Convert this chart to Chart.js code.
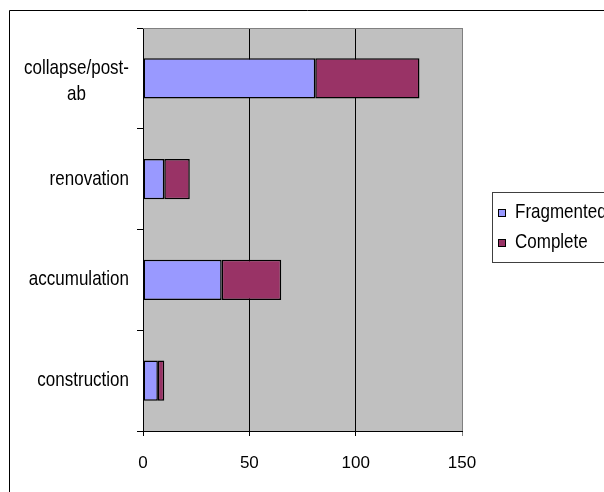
<!DOCTYPE html>
<html>
<head>
<meta charset="utf-8">
<script src="https://cdn.jsdelivr.net/npm/chart.js@4/dist/chart.umd.min.js"></script>
<style>
  html, body { margin: 0; padding: 0; background: #fff; overflow: hidden; }
  #wrap { position: relative; width: 604px; height: 492px; }
</style>
</head>
<body>
<div id="wrap"><canvas id="c" width="604" height="492"></canvas></div>
<script>
// Stages of the sequence, top to bottom
const categories = [['collapse/post-', 'ab'], 'renovation', 'accumulation', 'construction'];
// Counts per stage
const fragmented = [81, 10, 37, 7];
const complete = [49, 12, 28, 3];
// Value axis
const xTicks = [0, 50, 100, 150];
const seriesNames = ['Fragmented', 'Complete'];
const seriesColors = ['#9999FF', '#993366'];

const FONT = "'Liberation Sans', Arial, sans-serif";
Chart.defaults.font.family = FONT;
Chart.defaults.font.size = 16;
Chart.defaults.color = '#000';

// text drawn slightly taller than wide
const STRETCH = 1.15;
function tallText(ctx, s, x, y) {
  ctx.save();
  ctx.translate(x, y);
  ctx.scale(1, STRETCH);
  ctx.fillText(s, 0, 0);
  ctx.restore();
}

// Frame, plot background, plot border, category labels and legend
const frame = {
  id: 'frame',
  beforeDraw(chart) {
    const { ctx, chartArea: a } = chart;
    ctx.save();
    ctx.fillStyle = '#fff';
    ctx.fillRect(0, 0, chart.width, chart.height);
    // outer chart border
    ctx.strokeStyle = '#000';
    ctx.lineWidth = 1;
    ctx.beginPath();
    ctx.moveTo(9.5, chart.height + 2);
    ctx.lineTo(9.5, 10.5);
    ctx.lineTo(chart.width + 2, 10.5);
    ctx.stroke();
    // plot area
    ctx.fillStyle = '#C0C0C0';
    ctx.fillRect(a.left, a.top, a.right - a.left, a.bottom - a.top);
    ctx.restore();
  },
  afterDraw(chart) {
    const { ctx, chartArea: a } = chart;
    const y = chart.scales.y;
    ctx.save();
    // gray plot border on top and right
    ctx.strokeStyle = '#808080';
    ctx.lineWidth = 1;
    ctx.beginPath();
    ctx.moveTo(a.left, Math.round(a.top) + 0.5);
    ctx.lineTo(Math.round(a.right) + 0.5, Math.round(a.top) + 0.5);
    ctx.lineTo(Math.round(a.right) + 0.5, a.bottom);
    ctx.stroke();

    // category labels: block right-aligned, lines centred within block
    ctx.font = '17px ' + FONT;
    ctx.fillStyle = '#000';
    ctx.textBaseline = 'middle';
    ctx.textAlign = 'center';
    const rightEdge = 129;
    const lineGap = 26;
    chart.data.labels.forEach((lab, i) => {
      const lines = Array.isArray(lab) ? lab : [lab];
      const w = Math.max(...lines.map(s => ctx.measureText(s).width));
      const cx = rightEdge - w / 2;
      const cy = y.getPixelForValue(i) + (lines.length > 1 ? 3 : 0);
      const y0 = cy - (lines.length - 1) * lineGap / 2;
      lines.forEach((s, k) => tallText(ctx, s, cx, y0 + k * lineGap));
    });

    // legend
    const lx = 492, ly = 192, lh = 70;
    ctx.fillStyle = '#fff';
    ctx.fillRect(lx, ly, 200, lh);
    ctx.strokeStyle = '#404040';
    ctx.strokeRect(lx + 0.5, ly + 0.5, 200, lh);
    ctx.textAlign = 'left';
    chart.data.datasets.forEach((ds, i) => {
      const cy = 212.5 + i * 30;
      ctx.fillStyle = ds.backgroundColor;
      ctx.fillRect(498, Math.round(cy - 4), 8, 8);
      ctx.strokeStyle = '#000';
      ctx.strokeRect(498.5, Math.round(cy - 4) + 0.5, 7, 7);
      ctx.fillStyle = '#000';
      tallText(ctx, ds.label, 515, cy);
    });
    ctx.restore();
  }
};

new Chart(document.getElementById('c'), {
  type: 'bar',
  data: {
    labels: categories,
    datasets: [
      { label: seriesNames[0], data: fragmented, backgroundColor: seriesColors[0] },
      { label: seriesNames[1], data: complete, backgroundColor: seriesColors[1] }
    ]
  },
  options: {
    indexAxis: 'y',
    responsive: false,
    animation: false,
    devicePixelRatio: 1,
    layout: { padding: { left: 0, top: 28, right: 142, bottom: 0 } },
    datasets: {
      bar: {
        borderColor: '#000',
        borderWidth: 1.5,
        borderSkipped: false,
        barPercentage: 0.4,
        categoryPercentage: 1.0
      }
    },
    plugins: {
      legend: { display: false },
      tooltip: { enabled: false }
    },
    scales: {
      x: {
        stacked: true,
        min: xTicks[0],
        max: xTicks[xTicks.length - 1],
        afterBuildTicks: (s) => { s.ticks = xTicks.map(v => ({ value: v })); },
        afterFit: (s) => { s.height = 61; },
        border: { color: '#000', width: 1 },
        grid: {
          color: (c) => (c.tick && c.tick.value === xTicks[xTicks.length - 1]) ? '#808080' : '#000',
          lineWidth: 1,
          drawTicks: true,
          tickLength: 5
        },
        ticks: { padding: 17, font: { size: 17 }, color: '#000', maxRotation: 0 }
      },
      y: {
        stacked: true,
        afterFit: (s) => { s.width = 143; },
        border: { color: '#000', width: 1 },
        grid: {
          drawOnChartArea: false,
          drawTicks: true,
          tickLength: 6,
          color: '#000',
          offset: true
        },
        ticks: { display: false }
      }
    }
  },
  plugins: [frame]
});
</script>
</body>
</html>
